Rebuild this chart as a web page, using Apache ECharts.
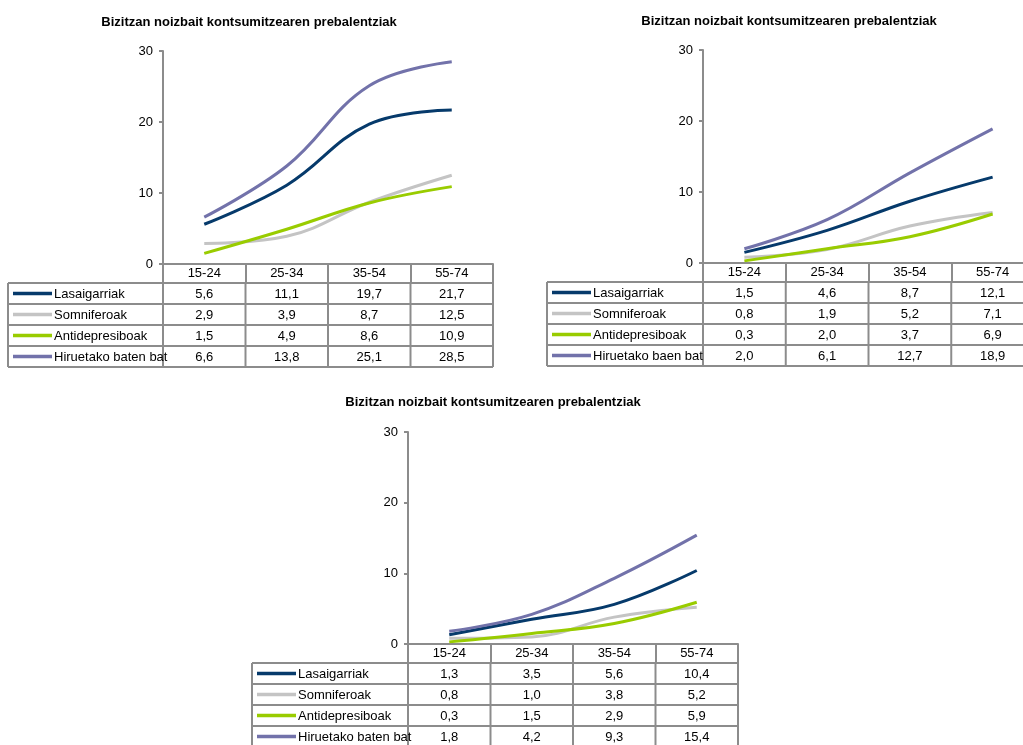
<!DOCTYPE html>
<html><head><meta charset="utf-8">
<script src="https://cdn.jsdelivr.net/npm/echarts@6/dist/echarts.min.js"></script>
<style>html,body{margin:0;padding:0;background:#fff}#c{width:1023px;height:745px}</style>
</head><body><div id="c"></div>
<script>
// ---------- DATA ----------
const categories = ['15-24', '25-34', '35-54', '55-74'];
const chartTitle = 'Bizitzan noizbait kontsumitzearen prebalentziak';
const namesA = ['Lasaigarriak', 'Somniferoak', 'Antidepresiboak', 'Hiruetako baten bat'];
const namesB = ['Lasaigarriak', 'Somniferoak', 'Antidepresiboak', 'Hiruetako baen bat'];

const c1Lasaigarriak    = [5.6, 11.1, 19.7, 21.7];
const c1Somniferoak     = [2.9, 3.9, 8.7, 12.5];
const c1Antidepresiboak = [1.5, 4.9, 8.6, 10.9];
const c1Hiruetako       = [6.6, 13.8, 25.1, 28.5];

const c2Lasaigarriak    = [1.5, 4.6, 8.7, 12.1];
const c2Somniferoak     = [0.8, 1.9, 5.2, 7.1];
const c2Antidepresiboak = [0.3, 2.0, 3.7, 6.9];
const c2Hiruetako       = [2.0, 6.1, 12.7, 18.9];

const c3Lasaigarriak    = [1.3, 3.5, 5.6, 10.4];
const c3Somniferoak     = [0.8, 1.0, 3.8, 5.2];
const c3Antidepresiboak = [0.3, 1.5, 2.9, 5.9];
const c3Hiruetako       = [1.8, 4.2, 9.3, 15.4];

const yMin = 0, yMax = 30, yStep = 10;

// ---------- STYLE / LAYOUT ----------
const colors = ['#063a6b', '#c4c4c4', '#99cc00', '#7272aa'];
const gridColor = '#8c8c8c';
const FONT = 'Liberation Sans, Arial, sans-serif';
const layouts = [
  { tableLeft: 8,   gridLeft: 163, gridTop: 51,  gridW: 330, gridH: 213, titleX: 249, titleY: 16 },
  { tableLeft: 547, gridLeft: 703, gridTop: 50,  gridW: 331, gridH: 213, titleX: 789, titleY: 15 },
  { tableLeft: 252, gridLeft: 408, gridTop: 432, gridW: 330, gridH: 212, titleX: 493, titleY: 396 }
];
const headerH = 19, rowH = 21;

const charts = [
  { names: namesA, data: [c1Lasaigarriak, c1Somniferoak, c1Antidepresiboak, c1Hiruetako] },
  { names: namesB, data: [c2Lasaigarriak, c2Somniferoak, c2Antidepresiboak, c2Hiruetako] },
  { names: namesA, data: [c3Lasaigarriak, c3Somniferoak, c3Antidepresiboak, c3Hiruetako] }
];

const fmt = v => v.toFixed(1).replace('.', ',');

const chart = echarts.init(document.getElementById('c'), null, { renderer: 'canvas' });

const option = {
  animation: false,
  textStyle: { fontFamily: FONT },
  title: layouts.map(L => ({
    text: chartTitle, left: L.titleX, top: L.titleY, textAlign: 'center', padding: 0,
    textStyle: { fontFamily: FONT, fontSize: 13, fontWeight: 'bold', color: '#000' }
  })),
  grid: layouts.map(L => ({
    left: L.gridLeft, top: L.gridTop, width: L.gridW, height: L.gridH,
    containLabel: false, outerBoundsMode: 'none'
  })),
  xAxis: layouts.map((L, i) => ({
    type: 'category', gridIndex: i, data: categories, boundaryGap: true,
    axisLine: { show: true, lineStyle: { color: gridColor, width: 2 } },
    axisTick: { show: true, length: headerH, interval: 0, lineStyle: { color: gridColor, width: 2 } },
    axisLabel: { fontFamily: FONT, fontSize: 13, color: '#000', margin: 3, interval: 0 },
    splitLine: { show: false }
  })),
  yAxis: layouts.map((L, i) => ({
    type: 'value', gridIndex: i, min: yMin, max: yMax, interval: yStep,
    axisLine: { show: true, lineStyle: { color: gridColor, width: 2 } },
    axisTick: { show: true, length: 4, lineStyle: { color: gridColor, width: 2 } },
    axisLabel: { fontFamily: FONT, fontSize: 13, color: '#000', margin: 10 },
    splitLine: { show: false }
  })),
  series: []
};
charts.forEach((c, i) => {
  c.data.forEach((arr, k) => {
    option.series.push({
      type: 'line', name: c.names[k], xAxisIndex: i, yAxisIndex: i, data: arr,
      smooth: 0.4, symbol: 'none', lineStyle: { color: colors[k], width: 3 }, z: 3 + (k === 1 ? 0 : 1)
    });
  });
});
chart.setOption(option);

// ---------- data table below each plot ----------
const graphics = [];
charts.forEach((c, i) => {
  const L = layouts[i];
  const centers = categories.map(cat => chart.convertToPixel({ xAxisIndex: i }, cat));
  const bw = centers[1] - centers[0];
  const y0 = Math.round(chart.convertToPixel({ yAxisIndex: i }, 0));
  const right = centers[centers.length - 1] + bw / 2;
  const top = y0 + headerH;
  const bottom = top + rowH * c.names.length;
  const line = (x1, y1, x2, y2) => graphics.push({
    type: 'line', silent: true, z: 10,
    shape: { x1, y1, x2, y2 }, style: { stroke: gridColor, lineWidth: 2 }
  });
  for (let k = 0; k <= c.names.length; k++) line(L.tableLeft, top + k * rowH, right, top + k * rowH);
  const xs = [L.tableLeft, centers[0] - bw / 2].concat(centers.map(x => x + bw / 2));
  xs.forEach(x => line(x, top, x, bottom));
  c.names.forEach((nm, k) => {
    const cy = top + k * rowH + rowH / 2;
    graphics.push({ type: 'line', silent: true, z: 11,
      shape: { x1: L.tableLeft + 5, y1: cy, x2: L.tableLeft + 44, y2: cy },
      style: { stroke: colors[k], lineWidth: 3.5 } });
    graphics.push({ type: 'text', silent: true, z: 12, x: L.tableLeft + 46, y: cy + 1,
      style: { text: nm, font: '13px ' + FONT, fill: '#000', textAlign: 'left', textVerticalAlign: 'middle' } });
    c.data[k].forEach((v, j) => {
      graphics.push({ type: 'text', silent: true, z: 12, x: centers[j], y: cy + 1,
        style: { text: fmt(v), font: '13px ' + FONT, fill: '#000', textAlign: 'center', textVerticalAlign: 'middle' } });
    });
  });
});
chart.setOption({ graphic: graphics });
</script>
</body></html>
